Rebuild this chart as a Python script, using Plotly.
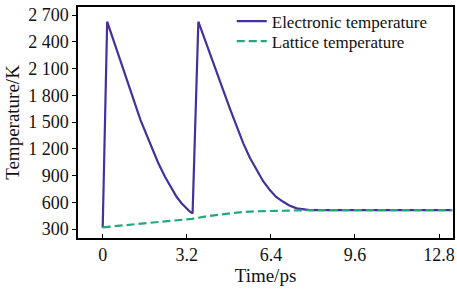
import plotly.graph_objects as go

# Electronic temperature (ps, K)
time_e = [0, 0.17, 1.44, 1.80, 2.10, 2.37, 2.60, 2.81, 3.00, 3.19, 3.32, 3.42, 3.64,
          4.84, 5.00, 5.35, 5.60, 5.86, 6.10, 6.36, 6.60, 6.87, 7.10, 7.38, 7.60, 7.88, 8.30, 13.3]
temp_e = [315, 2625, 1522, 1261, 1050, 886, 760, 662, 590, 532, 495, 476, 2625,
          1650, 1522, 1261, 1100, 961, 840, 737, 660, 606, 565, 532, 520, 513, 512, 512]

# Lattice temperature (ps, K)
time_l = [0, 0.8, 1.6, 2.4, 3.4, 4.0, 4.6, 5.2, 5.9, 7.0, 8.0, 9.0, 13.3]
temp_l = [320, 343, 365, 388, 415, 445, 470, 488, 500, 510, 513, 513, 513]

x_ticks = [0, 3.2, 6.4, 9.6, 12.8]
x_ticklabels = ["0", "3.2", "6.4", "9.6", "12.8"]
y_ticks = [300, 600, 900, 1200, 1500, 1800, 2100, 2400, 2700]
y_ticklabels = ["300", "600", "900", "1 200", "1 500", "1 800", "2 100", "2 400", "2 700"]

font = "Liberation Serif"
txt = "#111"

fig = go.Figure()
fig.add_trace(go.Scatter(x=time_e, y=temp_e, mode="lines", name="Electronic temperature",
                         line=dict(color="#45309e", width=2.2), legend="legend"))
fig.add_trace(go.Scatter(x=time_l, y=temp_l, mode="lines", name="Lattice temperature",
                         line=dict(color="#22a87a", width=2.2, dash="8px,4px"), legend="legend2"))

leg_common = dict(xanchor="left", yanchor="top", bgcolor="rgba(0,0,0,0)",
                  font=dict(family=font, size=17, color=txt), itemwidth=30, borderwidth=0)

fig.update_layout(
    width=457, height=289,
    margin=dict(l=78, r=4, t=7, b=51),
    paper_bgcolor="white", plot_bgcolor="white",
    font=dict(family=font, size=18, color=txt),
    showlegend=True,
    legend=dict(x=0.41, y=1.015, **leg_common),
    legend2=dict(x=0.41, y=0.928, **leg_common),
    xaxis=dict(range=[-0.94, 13.33], tickvals=x_ticks, ticktext=x_ticklabels, automargin=False,
               ticks="inside", ticklen=4, tickcolor="black", showline=True, linecolor="black",
               linewidth=1.5, mirror=True, showgrid=False, zeroline=False,
               title=dict(text="Time/ps", standoff=4, font=dict(family=font, size=19, color=txt)),
               tickfont=dict(family=font, size=18, color=txt)),
    yaxis=dict(range=[200, 2790], tickvals=y_ticks, ticktext=y_ticklabels, automargin=False,
               ticks="outside", ticklen=4, tickcolor="black", showline=True, linecolor="black",
               linewidth=1.5, mirror=True, showgrid=False, zeroline=False,
               title=dict(text="Temperature/K", standoff=4, font=dict(family=font, size=19, color=txt)),
               tickfont=dict(family=font, size=18, color=txt)),
)

fig.write_html("out.html", config={"displayModeBar": False},
               post_script="document.body.style.margin='0';")
